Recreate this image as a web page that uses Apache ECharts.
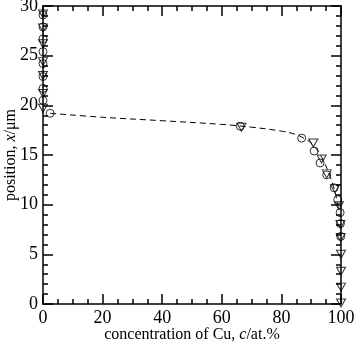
<!DOCTYPE html>
<html><head><meta charset="utf-8">
<script src="https://cdn.jsdelivr.net/npm/echarts@6/dist/echarts.min.js"></script>
<style>html,body{margin:0;padding:0;background:#fff}#c{width:355px;height:344px}</style>
</head><body><div id="c"></div>
<script>
var circleX = [0, 0, 0, 0, 0, 0, 0, 0, 2.4, 66.2, 86.8, 91.0, 93.0, 95.2, 97.7, 98.9, 99.7, 99.8, 99.9];
var circleY = [29.1, 27.9, 26.7, 25.4, 24.2, 22.9, 21.7, 20.5, 19.2, 17.9, 16.7, 15.4, 14.2, 13.0, 11.7, 10.5, 9.2, 8.1, 6.8];
var triX = [0, 0, 0, 0, 0, 0, 0, 66.6, 90.7, 93.5, 95.2, 98.0, 99.3, 99.8, 99.9, 100, 100, 100, 100];
var triY = [29.2, 27.8, 26.2, 24.4, 23.0, 21.2, 19.7, 17.8, 16.2, 14.6, 13.1, 11.6, 9.9, 8.0, 6.7, 5.0, 3.3, 1.7, 0.1];
var curveX = [2.4, 20, 40, 60, 70, 80, 85, 88, 90, 92, 94, 96, 97.5, 98.5, 99.2];
var curveY = [19.2, 18.8, 18.45, 18.08, 17.8, 17.4, 17.05, 16.6, 16.2, 15.5, 14.5, 13.1, 11.8, 10.6, 9.4];
var xTicks = [0, 20, 40, 60, 80, 100];
var yTicks = [0, 5, 10, 15, 20, 25, 30];

function zip(a, b) { return a.map(function (v, i) { return [v, b[i]]; }); }
var FONT = 'Liberation Serif';
var axisCommon = function (show, pos, isX) {
  return {
    type: 'value', position: pos,
    min: 0, max: isX ? 100 : 30, interval: isX ? 20 : 5,
    axisLine: { show: true, onZero: false, lineStyle: { color: '#000', width: 1.5 } },
    axisTick: { show: true, inside: true, length: 10, lineStyle: { color: '#000', width: 1.5 } },
    minorTick: { show: true, splitNumber: isX ? 4 : 5, length: 5, lineStyle: { color: '#000', width: 1.5 } },
    splitLine: { show: false },
    axisLabel: { show: show, color: '#000', fontFamily: FONT, fontSize: 18, margin: 5 }
  };
};
var xB = axisCommon(true, 'bottom', true);
xB.name = 'concentration of Cu, {i|c}/at.%';
xB.nameLocation = 'middle'; xB.nameGap = 23; xB.nameMoveOverlap = false;
xB.nameTextStyle = { color: '#000', fontFamily: FONT, fontSize: 16,
  rich: { i: { fontStyle: 'italic', fontFamily: FONT, fontSize: 16, color: '#000' } } };
var xT = axisCommon(false, 'top', true);
var yL = axisCommon(true, 'left', false);
yL.name = 'position, {i|x}/μm';
yL.nameLocation = 'middle'; yL.nameGap = 24; yL.nameMoveOverlap = false;
yL.nameTextStyle = { color: '#000', fontFamily: FONT, fontSize: 16,
  rich: { i: { fontStyle: 'italic', fontFamily: FONT, fontSize: 16, color: '#000' } } };
var yR = axisCommon(false, 'right', false);

var chart = echarts.init(document.getElementById('c'), null, { renderer: 'canvas' });
chart.setOption({
  backgroundColor: '#fff',
  animation: false,
  grid: { left: 43, top: 6, width: 298, height: 298, containLabel: false, outerBoundsMode: 'none' },
  xAxis: [xB, xT],
  yAxis: [yL, yR],
  series: [
    { type: 'line', data: zip(curveX, curveY), smooth: 0.4, symbol: 'none',
      lineStyle: { color: '#000', width: 1, type: [6, 4] }, z: 1 },
    { type: 'scatter', data: zip(circleX, circleY), symbol: 'circle', symbolSize: 8,
      itemStyle: { color: 'rgba(0,0,0,0)', borderColor: '#000', borderWidth: 1 }, z: 3 },
    { type: 'scatter', data: zip(triX, triY), symbol: 'triangle', symbolRotate: 180, symbolSize: [9, 8],
      itemStyle: { color: 'rgba(0,0,0,0)', borderColor: '#000', borderWidth: 1 }, z: 3 }
  ]
});
</script></body></html>
